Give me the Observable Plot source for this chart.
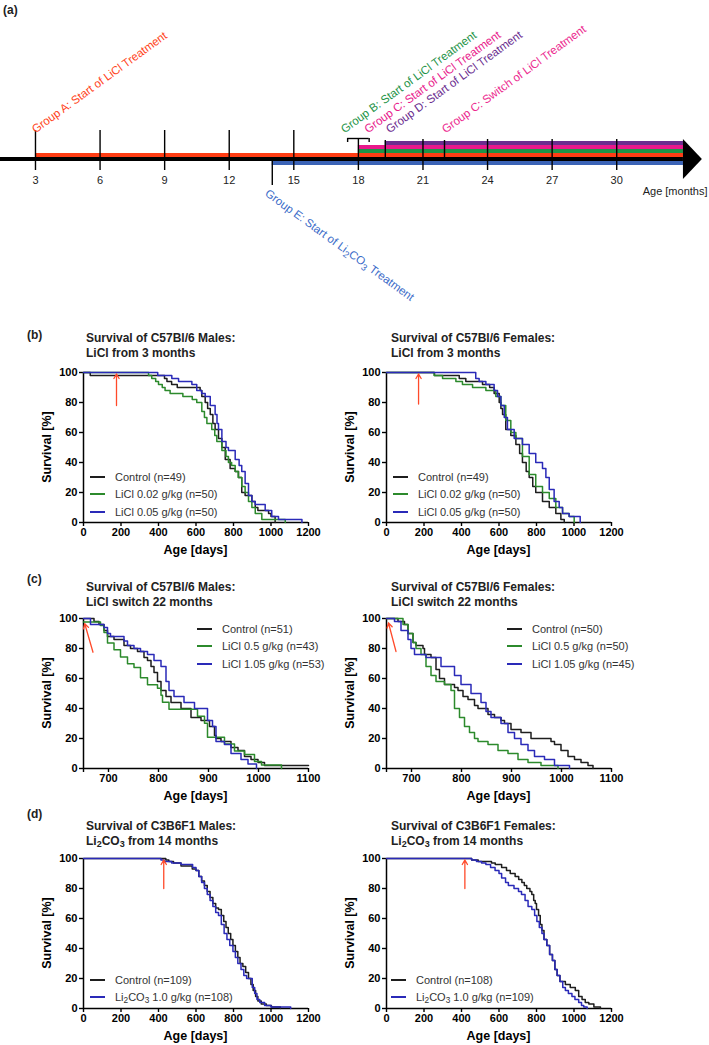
<!DOCTYPE html>
<html><head><meta charset="utf-8">
<script src="https://cdn.jsdelivr.net/npm/d3@7"></script>
<script src="https://cdn.jsdelivr.net/npm/@observablehq/plot@0.6"></script>
<style>
body{margin:0;background:#fff;}
#page{position:relative;width:709px;height:1045px;font-family:"Liberation Sans",Arial,Helvetica,sans-serif;overflow:hidden;color:#000;}
.abs{position:absolute;white-space:nowrap;}
.letter{font-weight:bold;font-size:12px;line-height:14px;color:#222;}
.title{font-weight:bold;font-size:12px;line-height:15px;color:#222;}
.axlab{font-weight:bold;font-size:12.5px;line-height:14px;transform:translate(-50%,-50%);}
.ylab{transform:translate(-50%,-50%) rotate(-90deg);}
.leg{font-size:11px;color:#333;}
.leg .row{display:flex;align-items:center;height:17.5px;}
.leg .sw{display:inline-block;flex:none;width:15px;height:0;border-top:2px solid;margin-right:10px;}
sub{font-size:75%;line-height:0;vertical-align:-0.25em;}
.wrap svg{max-width:none;}
</style></head>
<body><div id="page"></div>
<script>
// ---------- Panel (a): treatment timeline ----------
const timelineTicks = [3, 6, 9, 12, 15, 18, 21, 24, 27, 30];
const layerNames = ["Group D", "Group C", "Group B", "Group A", "Axis", "Group E"];
const layerStart = [19.25, 18, 18, 3, 1.375, 14];
const layerColor = ["#6b2d8f", "#e8198b", "#1e9448", "#ff3d14", "#000000", "#3b63b6"];
const timelineEnd = 33.1;
const extraTicks = [14, 19.25, 22];
const groupLabels = ["Group A: Start of LiCl Treatment", "Group B: Start of LiCl Treatment", "Group C: Start of LiCl Treatment", "Group D: Start of LiCl Treatment", "Group C: Switch of LiCl Treatment"];
const groupLabelMonth = [3, 17.35, 18.45, 19.45, 22.05];
const groupLabelColor = ["#ff4422", "#1e9448", "#e8198b", "#6b2d8f", "#ec2a8f"];
const groupELabel = "Group E: Start of Li2CO3 Treatment";

// ---------- Panel (b): LiCl from 3 months ----------
const bMaleControl = [[0,100],[36,98],[432,96],[445,94],[470,92],[500,90],[622,88],[631,84],[649,80],[662,76],[676,72],[690,66],[702,62],[720,56],[738,50],[756,42],[782,36],[809,34],[827,30],[844,20],[862,18],[898,14],[916,10],[930,8],[987,6],[1000,4],[1022,0]];
const bMaleLow = [[0,100],[347,98],[364,96],[385,94],[400,92],[420,90],[435,88],[462,86],[530,84],[580,82],[604,80],[631,74],[645,70],[658,66],[684,62],[700,58],[711,54],[738,48],[760,44],[773,40],[790,38],[809,34],[825,30],[844,24],[862,20],[880,14],[898,10],[916,6],[951,2],[1076,0]];
const bMaleHigh = [[0,100],[396,98],[471,96],[507,94],[578,92],[604,88],[630,86],[649,84],[676,78],[702,72],[712,66],[720,62],[738,54],[760,50],[773,48],[809,42],[830,38],[844,34],[862,26],[880,18],[898,14],[916,12],[969,8],[1004,4],[1040,2],[1165,0]];
const bFemControl = [[0,100],[256,98],[388,96],[423,94],[512,92],[550,90],[574,86],[601,80],[610,76],[619,72],[636,62],[663,58],[690,52],[710,46],[725,40],[745,34],[761,30],[780,24],[796,20],[832,14],[868,10],[903,6],[930,2],[948,0]];
const bFemLow = [[0,100],[254,98],[299,96],[370,94],[405,92],[459,90],[530,88],[583,84],[610,78],[636,68],[663,60],[690,56],[725,44],[761,32],[796,24],[832,20],[868,16],[903,10],[939,6],[974,4],[1001,0]];
const bFemHigh = [[0,100],[476,96],[494,94],[530,92],[574,88],[592,84],[610,78],[628,70],[645,62],[681,56],[725,52],[761,46],[796,40],[832,36],[850,30],[868,22],[894,14],[921,10],[939,6],[974,4],[1033,0]];

// ---------- Panel (c): LiCl switch 22 months ----------
const cMaleControl = [[650,100],[671,98],[681,96],[691,92],[698,88],[711,86],[731,82],[744,80],[758,78],[771,74],[778,72],[785,68],[791,64],[798,58],[805,52],[815,48],[825,44],[845,40],[865,34],[885,32],[902,28],[912,22],[915,20],[925,18],[945,14],[959,12],[972,8],[985,6],[999,4],[1012,2],[1100,2]];
const cMaleLow = [[650,97.7],[684,95.3],[691,90.7],[698,83.7],[711,79.1],[724,74.4],[738,69.8],[751,67.4],[764,60.5],[778,55.8],[798,53.5],[805,48.8],[808,44.2],[821,39.5],[878,34.9],[892,30.2],[898,20.9],[932,16.3],[952,11.6],[972,9.3],[992,4.7],[1006,2.3],[1046,0]];
const cMaleHigh = [[650,100],[664,96],[691,94],[698,90],[704,88],[731,85],[738,82],[751,80],[764,78],[778,76],[791,72],[805,68],[815,58],[821,52],[831,48],[851,44],[872,40],[898,32],[908,28],[915,18],[932,16],[945,10],[965,6],[979,3],[996,0]];
const cFemControl = [[650,100],[673,98],[686,96],[693,90],[703,84],[709,82],[723,80],[726,76],[739,74],[749,66],[756,60],[766,56],[786,54],[793,52],[803,48],[813,46],[826,42],[833,40],[853,36],[866,34],[879,32],[886,30],[899,26],[919,24],[939,20],[979,18],[986,16],[999,12],[1013,8],[1026,6],[1039,4],[1053,2],[1063,0]];
const cFemLow = [[650,100],[683,96],[693,90],[703,84],[709,80],[719,76],[729,68],[739,62],[749,58],[766,56],[779,52],[786,40],[796,34],[806,28],[816,24],[826,20],[833,18],[853,16],[873,12],[893,10],[913,6],[933,4],[959,2],[993,0]];
const cFemHigh = [[650,100],[666,98],[679,92],[693,86],[699,80],[706,76],[729,74],[759,68],[786,62],[799,56],[819,50],[839,44],[849,38],[859,34],[879,30],[893,24],[906,20],[919,16],[933,12],[946,8],[966,6],[986,2],[1016,0]];

// ---------- Panel (d): Li2CO3 from 14 months ----------
const dMaleControl = [[0,100],[439,99],[455,98],[480,97],[520,95],[580,93],[600,92],[615,88],[630,85],[645,82],[660,78],[675,74],[690,70],[705,67],[720,66],[735,62],[748,58],[760,54],[772,50],[785,46],[797,42],[810,38],[823,34],[835,30],[850,28],[865,24],[880,20],[893,16],[905,12],[918,8],[930,5],[948,3],[975,2],[1002,1],[1050,0]];
const dMaleLi = [[0,100],[413,99],[430,98],[470,97],[520,96],[582,94],[600,92],[615,88],[630,84],[645,80],[660,76],[675,72],[690,68],[705,64],[720,62],[735,56],[750,50],[765,46],[780,42],[797,38],[810,34],[823,30],[840,26],[855,22],[870,20],[900,14],[913,10],[925,6],[940,4],[966,2],[1000,1],[1105,0]];
const dFemControl = [[0,100],[454,99],[489,98],[560,97],[580,96],[614,94],[640,92],[660,90],[686,88],[705,86],[722,84],[735,82],[748,80],[765,78],[775,76],[785,72],[793,70],[800,66],[811,62],[820,56],[829,52],[840,46],[855,42],[870,36],[885,32],[898,26],[910,22],[925,18],[954,16],[980,14],[1007,12],[1025,8],[1043,6],[1060,4],[1079,3],[1106,1],[1141,0]];
const dFemLi = [[0,100],[454,99],[480,98],[507,97],[530,96],[555,94],[579,92],[600,90],[614,87],[635,84],[650,82],[680,80],[704,78],[720,76],[739,72],[755,68],[775,66],[790,62],[802,58],[815,54],[829,50],[840,46],[855,42],[870,36],[885,32],[898,26],[910,22],[925,18],[940,14],[954,12],[970,10],[989,8],[1005,6],[1025,4],[1040,2],[1052,1],[1070,0]];

// red "treatment start" arrows: [day from, % from, day to, % to]
const arrowBMale = [176, 78, 176, 99];
const arrowBFem = [171, 79, 171, 99];
const arrowCMale = [669, 77.5, 652.5, 96.5];
const arrowCFem = [669, 78, 654, 97];
const arrowDMale = [428, 80, 428, 99];
const arrowDFem = [418, 80, 418, 99];

const ticksFull = [0, 200, 400, 600, 800, 1000, 1200];
const ticksSwitch = [650, 700, 800, 900, 1000, 1100];
const colControl = "#1e1e1e", colGreen = "#2c8a2c", colBlue = "#2a2ab8";

// ---------- helpers ----------
const page = document.getElementById("page");
const FONT = "'Liberation Sans', Arial, Helvetica, sans-serif";
function place(node, left, top) {
  const w = document.createElement("div");
  w.className = "abs wrap";
  w.style.left = left + "px"; w.style.top = top + "px";
  w.appendChild(node); page.appendChild(w); return w;
}
function html(str, cls, left, top) {
  const d = document.createElement("div");
  d.className = "abs " + cls; d.innerHTML = str;
  d.style.left = left + "px"; d.style.top = top + "px";
  page.appendChild(d); return d;
}
function subscriptify(svg) {
  const ns = "http://www.w3.org/2000/svg";
  svg.querySelectorAll("text").forEach(t => {
    const s = t.textContent;
    if (!s.includes("Li2CO3")) return;
    const [pre, post] = s.split("Li2CO3");
    while (t.firstChild) t.removeChild(t.firstChild);
    const add = (txt, dy, small) => {
      const e = document.createElementNS(ns, "tspan");
      e.textContent = txt;
      if (dy) e.setAttribute("dy", dy);
      if (small) e.setAttribute("font-size", "80%");
      t.appendChild(e);
    };
    add(pre + "Li"); add("2", "3", true); add("CO", "-3"); add("3", "3", true); add(post, "-3");
  });
}

// ---------- draw panel (a) ----------
const timeline = Plot.plot({
  width: 709, height: 310, margin: 0,
  x: {domain: [1.375, 34.31], range: [0, 709], axis: null},
  y: {domain: [0, 6], range: [141, 165], axis: null},
  color: {type: "identity"},
  style: {fontFamily: FONT, fontSize: "11px", background: "transparent", overflow: "visible"},
  marks: [
    Plot.rect(layerNames, {x1: (d, i) => layerStart[i], x2: timelineEnd, y1: (d, i) => i, y2: (d, i) => i + 1, fill: (d, i) => layerColor[i]}),
    Plot.areaY([{x: timelineEnd, lo: -0.5, hi: 9.5}, {x: 33.98, lo: 4.5, hi: 4.5}], {x: "x", y1: "lo", y2: "hi", fill: "black"}),
    Plot.ruleX(timelineTicks, {x: d => d, y1: d => d <= 15 ? -2.75 : -0.5, y2: 7.25, stroke: "black", strokeWidth: 1.4}),
    Plot.ruleX(extraTicks, {x: d => d, y1: d => d === 14 ? 5 : -0.25, y2: d => d === 14 ? 11 : 4, stroke: "black", strokeWidth: 1.4}),
    Plot.ruleY([-0.75], {x1: 17.5, x2: 18.5, stroke: "black", strokeWidth: 1.4}),
    Plot.ruleX([17.5, 18.5], {x: d => d, y1: -0.75, y2: 0.25, stroke: "black", strokeWidth: 1.4}),
    Plot.text(timelineTicks, {x: d => d, y: 9.75, text: d => String(d), fill: "#222", fontSize: 11}),
    Plot.text(["Age [months]"], {x: 34.31, y: 12.5, text: d => d, textAnchor: "end", dx: -2, fill: "#222", fontSize: 11}),
    Plot.text(groupLabels, {x: (d, i) => groupLabelMonth[i], y: -2, text: d => d, rotate: -36, textAnchor: "start", lineAnchor: "bottom", fill: (d, i) => groupLabelColor[i], fontSize: 11.5}),
    Plot.text([groupELabel], {x: 13.85, y: 11.75, text: d => d, rotate: 36, textAnchor: "start", lineAnchor: "top", fill: "#3b6bc8", fontSize: 11.5})
  ]
});
subscriptify(timeline);
place(timeline, 0, 0);
html("(a)", "letter", 3, 3);

// ---------- survival panels ----------
function survival({left, top, domain, ticks, series, arrow}) {
  const svg = Plot.plot({
    width: 295, height: 185, marginLeft: 40, marginRight: 30, marginTop: 10, marginBottom: 25,
    x: {domain}, y: {domain: [0, 100]},
    style: {fontFamily: FONT, fontSize: "11px", fontWeight: "bold", color: "black", background: "transparent", overflow: "visible"},
    marks: [
      Plot.axisY({ticks: [0, 20, 40, 60, 80, 100], tickSize: 4, tickPadding: 2, label: null, strokeWidth: 1.4}),
      Plot.axisX({ticks, tickSize: 4, tickPadding: 2, label: null, strokeWidth: 1.4, tickFormat: d => (d === domain[0] && d !== 0) ? "" : String(d)}),
      Plot.ruleX([domain[0]], {stroke: "black", strokeWidth: 1.5}),
      Plot.ruleY([0], {stroke: "black", strokeWidth: 1.5}),
      ...series.map(s => Plot.line(s.data, {x: d => d[0], y: d => d[1], curve: "step-after", stroke: s.color, strokeWidth: 1.5})),
      Plot.arrow([arrow], {x1: d => d[0], y1: d => d[1], x2: d => d[2], y2: d => d[3], stroke: "#ff4a2a", strokeWidth: 1.3, headLength: 6})
    ]
  });
  place(svg, left - 40, top - 10);
}
function legend(items, left, top) {
  return html(items.map(([c, t]) => `<div class="row"><span class="sw" style="border-top-color:${c}"></span><span>${t}</span></div>`).join(""), "leg", left, top);
}
function axisLabels(frameLeft, frameTop, frameBottom, ylabX) {
  html("Survival [%]", "axlab ylab", ylabX, (frameTop + frameBottom) / 2);
  html("Age [days]", "axlab", frameLeft + 112.5, frameBottom + 28);
}

// (b)
html("(b)", "letter", 27, 328);
html("Survival of C57Bl/6 Males:<br>LiCl from 3 months", "title", 86, 331);
html("Survival of C57Bl/6 Females:<br>LiCl from 3 months", "title", 391, 331);
survival({left: 83, top: 372, domain: [0, 1200], ticks: ticksFull, arrow: arrowBMale,
  series: [{data: bMaleControl, color: colControl}, {data: bMaleLow, color: colGreen}, {data: bMaleHigh, color: colBlue}]});
survival({left: 386, top: 372, domain: [0, 1200], ticks: ticksFull, arrow: arrowBFem,
  series: [{data: bFemControl, color: colControl}, {data: bFemLow, color: colGreen}, {data: bFemHigh, color: colBlue}]});
axisLabels(83, 372, 522, 47); axisLabels(386, 372, 522, 350);
legend([[colControl, "Control (n=49)"], [colGreen, "LiCl 0.02 g/kg (n=50)"], [colBlue, "LiCl 0.05 g/kg (n=50)"]], 90, 468);
legend([[colControl, "Control (n=49)"], [colGreen, "LiCl 0.02 g/kg (n=50)"], [colBlue, "LiCl 0.05 g/kg (n=50)"]], 393, 468);

// (c)
html("(c)", "letter", 27, 572);
html("Survival of C57Bl/6 Males:<br>LiCl switch 22 months", "title", 86, 580);
html("Survival of C57Bl/6 Females:<br>LiCl switch 22 months", "title", 391, 580);
survival({left: 83, top: 618, domain: [650, 1100], ticks: ticksSwitch, arrow: arrowCMale,
  series: [{data: cMaleControl, color: colControl}, {data: cMaleLow, color: colGreen}, {data: cMaleHigh, color: colBlue}]});
survival({left: 386, top: 618, domain: [650, 1100], ticks: ticksSwitch, arrow: arrowCFem,
  series: [{data: cFemControl, color: colControl}, {data: cFemLow, color: colGreen}, {data: cFemHigh, color: colBlue}]});
axisLabels(83, 618, 768, 47); axisLabels(386, 618, 768, 350);
legend([[colControl, "Control (n=51)"], [colGreen, "LiCl 0.5 g/kg (n=43)"], [colBlue, "LiCl 1.05 g/kg (n=53)"]], 197, 620);
legend([[colControl, "Control (n=50)"], [colGreen, "LiCl 0.5 g/kg (n=50)"], [colBlue, "LiCl 1.05 g/kg (n=45)"]], 507, 620);

// (d)
html("(d)", "letter", 27, 807);
html("Survival of C3B6F1 Males:<br>Li<sub>2</sub>CO<sub>3</sub> from 14 months", "title", 86, 819);
html("Survival of C3B6F1 Females:<br>Li<sub>2</sub>CO<sub>3</sub> from 14 months", "title", 391, 819);
survival({left: 83, top: 858, domain: [0, 1200], ticks: ticksFull, arrow: arrowDMale,
  series: [{data: dMaleControl, color: colControl}, {data: dMaleLi, color: colBlue}]});
survival({left: 386, top: 858, domain: [0, 1200], ticks: ticksFull, arrow: arrowDFem,
  series: [{data: dFemControl, color: colControl}, {data: dFemLi, color: colBlue}]});
axisLabels(83, 858, 1008, 47); axisLabels(386, 858, 1008, 350);
legend([[colControl, "Control (n=109)"], [colBlue, "Li<sub>2</sub>CO<sub>3</sub> 1.0 g/kg (n=108)"]], 90, 971);
legend([[colControl, "Control (n=108)"], [colBlue, "Li<sub>2</sub>CO<sub>3</sub> 1.0 g/kg (n=109)"]], 391, 971);
</script></body></html>
